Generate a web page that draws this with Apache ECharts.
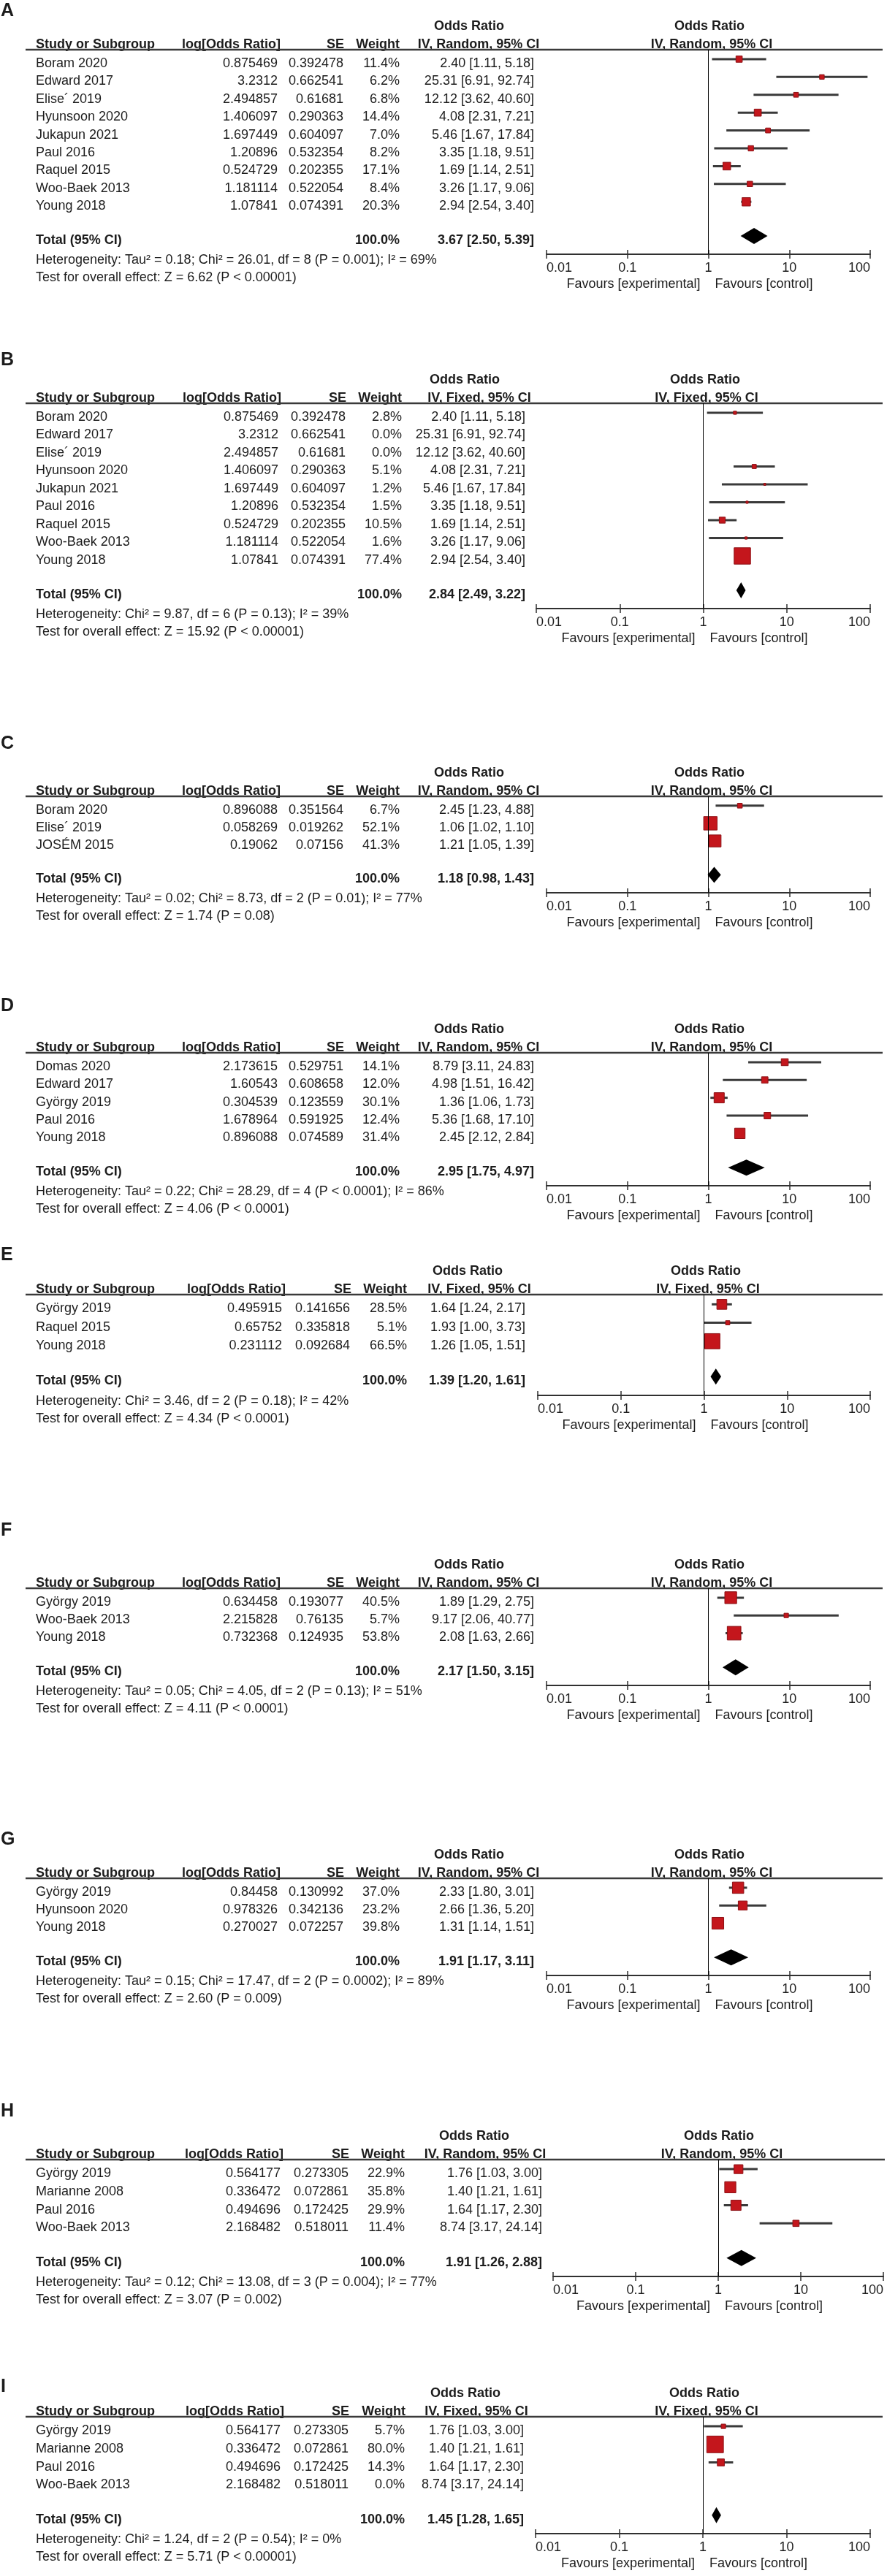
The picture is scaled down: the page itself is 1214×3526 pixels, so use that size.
<!DOCTYPE html>
<html><head><meta charset="utf-8">
<script src="https://cdn.jsdelivr.net/npm/echarts@6/dist/echarts.min.js"></script>
<style>html,body{margin:0;padding:0;background:#fff}#chart{width:1214px;height:3526px}</style>
</head><body><div id="chart"></div>
<script>
// ================= DATA =================
const tickLabels = ['0.01', '0.1', '1', '10', '100'];

// Panel A (IV, Random)
const studiesA = ['Boram 2020', 'Edward 2017', 'Elise´ 2019', 'Hyunsoon 2020', 'Jukapun 2021', 'Paul 2016', 'Raquel 2015', 'Woo-Baek 2013', 'Young 2018'];
const logOrA = [0.875469, 3.2312, 2.494857, 1.406097, 1.697449, 1.20896, 0.524729, 1.181114, 1.07841];
const seA = [0.392478, 0.662541, 0.61681, 0.290363, 0.604097, 0.532354, 0.202355, 0.522054, 0.074391];
const weightA = [11.4, 6.2, 6.8, 14.4, 7.0, 8.2, 17.1, 8.4, 20.3];
const orA = [2.40, 25.31, 12.12, 4.08, 5.46, 3.35, 1.69, 3.26, 2.94];
const loA = [1.11, 6.91, 3.62, 2.31, 1.67, 1.18, 1.14, 1.17, 2.54];
const hiA = [5.18, 92.74, 40.60, 7.21, 17.84, 9.51, 2.51, 9.06, 3.40];
const totalA = [3.67, 2.50, 5.39];
const hetA = 'Heterogeneity: Tau² = 0.18; Chi² = 26.01, df = 8 (P = 0.001); I² = 69%';
const testA = 'Test for overall effect: Z = 6.62 (P < 0.00001)';

// Panel B (IV, Fixed)
const studiesB = ['Boram 2020', 'Edward 2017', 'Elise´ 2019', 'Hyunsoon 2020', 'Jukapun 2021', 'Paul 2016', 'Raquel 2015', 'Woo-Baek 2013', 'Young 2018'];
const logOrB = [0.875469, 3.2312, 2.494857, 1.406097, 1.697449, 1.20896, 0.524729, 1.181114, 1.07841];
const seB = [0.392478, 0.662541, 0.61681, 0.290363, 0.604097, 0.532354, 0.202355, 0.522054, 0.074391];
const weightB = [2.8, 0.0, 0.0, 5.1, 1.2, 1.5, 10.5, 1.6, 77.4];
const orB = [2.40, 25.31, 12.12, 4.08, 5.46, 3.35, 1.69, 3.26, 2.94];
const loB = [1.11, 6.91, 3.62, 2.31, 1.67, 1.18, 1.14, 1.17, 2.54];
const hiB = [5.18, 92.74, 40.60, 7.21, 17.84, 9.51, 2.51, 9.06, 3.40];
const totalB = [2.84, 2.49, 3.22];
const hetB = 'Heterogeneity: Chi² = 9.87, df = 6 (P = 0.13); I² = 39%';
const testB = 'Test for overall effect: Z = 15.92 (P < 0.00001)';

// Panel C (IV, Random)
const studiesC = ['Boram 2020', 'Elise´ 2019', 'JOSÉM 2015'];
const logOrC = [0.896088, 0.058269, 0.19062];
const seC = [0.351564, 0.019262, 0.07156];
const weightC = [6.7, 52.1, 41.3];
const orC = [2.45, 1.06, 1.21];
const loC = [1.23, 1.02, 1.05];
const hiC = [4.88, 1.10, 1.39];
const totalC = [1.18, 0.98, 1.43];
const hetC = 'Heterogeneity: Tau² = 0.02; Chi² = 8.73, df = 2 (P = 0.01); I² = 77%';
const testC = 'Test for overall effect: Z = 1.74 (P = 0.08)';

// Panel D (IV, Random)
const studiesD = ['Domas 2020', 'Edward 2017', 'György 2019', 'Paul 2016', 'Young 2018'];
const logOrD = [2.173615, 1.60543, 0.304539, 1.678964, 0.896088];
const seD = [0.529751, 0.608658, 0.123559, 0.591925, 0.074589];
const weightD = [14.1, 12.0, 30.1, 12.4, 31.4];
const orD = [8.79, 4.98, 1.36, 5.36, 2.45];
const loD = [3.11, 1.51, 1.06, 1.68, 2.12];
const hiD = [24.83, 16.42, 1.73, 17.10, 2.84];
const totalD = [2.95, 1.75, 4.97];
const hetD = 'Heterogeneity: Tau² = 0.22; Chi² = 28.29, df = 4 (P < 0.0001); I² = 86%';
const testD = 'Test for overall effect: Z = 4.06 (P < 0.0001)';

// Panel E (IV, Fixed)
const studiesE = ['György 2019', 'Raquel 2015', 'Young 2018'];
const logOrE = [0.495915, 0.65752, 0.231112];
const seE = [0.141656, 0.335818, 0.092684];
const weightE = [28.5, 5.1, 66.5];
const orE = [1.64, 1.93, 1.26];
const loE = [1.24, 1.00, 1.05];
const hiE = [2.17, 3.73, 1.51];
const totalE = [1.39, 1.20, 1.61];
const hetE = 'Heterogeneity: Chi² = 3.46, df = 2 (P = 0.18); I² = 42%';
const testE = 'Test for overall effect: Z = 4.34 (P < 0.0001)';

// Panel F (IV, Random)
const studiesF = ['György 2019', 'Woo-Baek 2013', 'Young 2018'];
const logOrF = [0.634458, 2.215828, 0.732368];
const seF = [0.193077, 0.76135, 0.124935];
const weightF = [40.5, 5.7, 53.8];
const orF = [1.89, 9.17, 2.08];
const loF = [1.29, 2.06, 1.63];
const hiF = [2.75, 40.77, 2.66];
const totalF = [2.17, 1.50, 3.15];
const hetF = 'Heterogeneity: Tau² = 0.05; Chi² = 4.05, df = 2 (P = 0.13); I² = 51%';
const testF = 'Test for overall effect: Z = 4.11 (P < 0.0001)';

// Panel G (IV, Random)
const studiesG = ['György 2019', 'Hyunsoon 2020', 'Young 2018'];
const logOrG = [0.84458, 0.978326, 0.270027];
const seG = [0.130992, 0.342136, 0.072257];
const weightG = [37.0, 23.2, 39.8];
const orG = [2.33, 2.66, 1.31];
const loG = [1.80, 1.36, 1.14];
const hiG = [3.01, 5.20, 1.51];
const totalG = [1.91, 1.17, 3.11];
const hetG = 'Heterogeneity: Tau² = 0.15; Chi² = 17.47, df = 2 (P = 0.0002); I² = 89%';
const testG = 'Test for overall effect: Z = 2.60 (P = 0.009)';

// Panel H (IV, Random)
const studiesH = ['György 2019', 'Marianne 2008', 'Paul 2016', 'Woo-Baek 2013'];
const logOrH = [0.564177, 0.336472, 0.494696, 2.168482];
const seH = [0.273305, 0.072861, 0.172425, 0.518011];
const weightH = [22.9, 35.8, 29.9, 11.4];
const orH = [1.76, 1.40, 1.64, 8.74];
const loH = [1.03, 1.21, 1.17, 3.17];
const hiH = [3.00, 1.61, 2.30, 24.14];
const totalH = [1.91, 1.26, 2.88];
const hetH = 'Heterogeneity: Tau² = 0.12; Chi² = 13.08, df = 3 (P = 0.004); I² = 77%';
const testH = 'Test for overall effect: Z = 3.07 (P = 0.002)';

// Panel I (IV, Fixed)
const studiesI = ['György 2019', 'Marianne 2008', 'Paul 2016', 'Woo-Baek 2013'];
const logOrI = [0.564177, 0.336472, 0.494696, 2.168482];
const seI = [0.273305, 0.072861, 0.172425, 0.518011];
const weightI = [5.7, 80.0, 14.3, 0.0];
const orI = [1.76, 1.40, 1.64, 8.74];
const loI = [1.03, 1.21, 1.17, 3.17];
const hiI = [3.00, 1.61, 2.30, 24.14];
const totalI = [1.45, 1.28, 1.65];
const hetI = 'Heterogeneity: Chi² = 1.24, df = 2 (P = 0.54); I² = 0%';
const testI = 'Test for overall effect: Z = 5.71 (P < 0.00001)';

// ================= LAYOUT (pixels) =================
const colsR = {study:49, logR:380, seR:470, wR:547, ciR:731, hLogR:384, hSeR:471, hWR:547, hCiC:655, orC:642, rOrC:971, rCiC:974, lineL:35, lineR:1208, axL:748, axR:1191};
const colsB = {study:49, logR:381, seR:473, wR:550, ciR:719, hLogR:385, hSeR:474, hWR:550, hCiC:656, orC:636, rOrC:965, rCiC:967, lineL:35, lineR:1208, axL:734, axR:1191};
const colsE = {study:49, logR:386, seR:479, wR:557, ciR:719, hLogR:391, hSeR:481, hWR:557, hCiC:656, orC:640, rOrC:966, rCiC:969, lineL:35, lineR:1208, axL:736, axR:1191};
const colsH = {study:49, logR:384, seR:477, wR:554, ciR:742, hLogR:388, hSeR:478, hWR:554, hCiC:664, orC:649, rOrC:984, rCiC:988, lineL:35, lineR:1211, axL:757, axR:1209};
const colsI = {study:49, logR:384, seR:477, wR:554, ciR:717, hLogR:389, hSeR:478, hWR:555, hCiC:652, orC:637, rOrC:964, rCiC:967, lineL:35, lineR:1208, axL:733, axR:1191};

const panels = [
  {label:'A', model:'Random', studies:studiesA, logOr:logOrA, se:seA, weight:weightA, or:orA, lo:loA, hi:hiA, total:totalA, het:hetA, test:testA, letterY:15,   line:68,   axis:348,  cols:colsR},
  {label:'B', model:'Fixed',  studies:studiesB, logOr:logOrB, se:seB, weight:weightB, or:orB, lo:loB, hi:hiB, total:totalB, het:hetB, test:testB, letterY:493,  line:552,  axis:833,  cols:colsB},
  {label:'C', model:'Random', studies:studiesC, logOr:logOrC, se:seC, weight:weightC, or:orC, lo:loC, hi:hiC, total:totalC, het:hetC, test:testC, letterY:1018, line:1090, axis:1222, cols:colsR},
  {label:'D', model:'Random', studies:studiesD, logOr:logOrD, se:seD, weight:weightD, or:orD, lo:loD, hi:hiD, total:totalD, het:hetD, test:testD, letterY:1377, line:1441, axis:1623, cols:colsR},
  {label:'E', model:'Fixed',  studies:studiesE, logOr:logOrE, se:seE, weight:weightE, or:orE, lo:loE, hi:hiE, total:totalE, het:hetE, test:testE, letterY:1718, line:1772, axis:1910, cols:colsE},
  {label:'F', model:'Random', studies:studiesF, logOr:logOrF, se:seF, weight:weightF, or:orF, lo:loF, hi:hiF, total:totalF, het:hetF, test:testF, letterY:2095, line:2174, axis:2307, cols:colsR},
  {label:'G', model:'Random', studies:studiesG, logOr:logOrG, se:seG, weight:weightG, or:orG, lo:loG, hi:hiG, total:totalG, het:hetG, test:testG, letterY:2518, line:2571, axis:2704, cols:colsR},
  {label:'H', model:'Random', studies:studiesH, logOr:logOrH, se:seH, weight:weightH, or:orH, lo:loH, hi:hiH, total:totalH, het:hetH, test:testH, letterY:2890, line:2956, axis:3116, cols:colsH},
  {label:'I', model:'Fixed',  studies:studiesI, logOr:logOrI, se:seI, weight:weightI, or:orI, lo:loI, hi:hiI, total:totalI, het:hetI, test:testI, letterY:3267, line:3308, axis:3468, cols:colsI}
];

// ================= BUILD =================
const FONT = '"Liberation Sans", Arial, Helvetica, sans-serif';
const TXT = '#1c1c1c';
const grids = [], xAxes = [], yAxes = [], series = [], graphics = [];

function txt(x, y, s, align, bold, size) {
  graphics.push({
    type: 'text', x: x, y: y, silent: true,
    style: {
      text: s, fill: TXT,
      font: (bold ? 'bold ' : '') + (size || 18) + 'px ' + FONT,
      align: align, verticalAlign: 'middle',
      textAlign: align, textVerticalAlign: 'middle'
    }
  });
}
function hline(x1, x2, y, w, color) {
  graphics.push({type:'line', silent:true, shape:{x1:x1, y1:y, x2:x2, y2:y}, style:{stroke:color, lineWidth:w}});
}
const fmtCI = (o, l, h) => o.toFixed(2) + ' [' + l.toFixed(2) + ', ' + h.toFixed(2) + ']';

function renderStudy(params, api) {
  const w = api.value(3);
  if (!(w > 0)) return null;
  const row = api.value(4);
  const pO = api.coord([api.value(0), row]);
  const pL = api.coord([api.value(1), row]);
  const pH = api.coord([api.value(2), row]);
  const s = 2.55 * Math.sqrt(w);
  return {
    type: 'group',
    children: [
      {type:'line', shape:{x1:pL[0], y1:pL[1], x2:pH[0], y2:pH[1]}, style:{stroke:'#3a3a3a', lineWidth:3}},
      {type:'rect', shape:{x:pO[0]-s/2, y:pO[1]-s/2, width:s, height:s}, style:{fill:'#C4161C', stroke:'#8C1014', lineWidth:1}}
    ]
  };
}
function renderTotal(params, api) {
  const row = api.value(3);
  const c = api.coord([api.value(0), row]);
  const l = api.coord([api.value(1), row]);
  const h = api.coord([api.value(2), row]);
  const hh = 11;
  return {type:'polygon', shape:{points:[[l[0], c[1]], [c[0], c[1]-hh], [h[0], c[1]], [c[0], c[1]+hh]]}, style:{fill:'#000'}};
}

panels.forEach((p, k) => {
  const c = p.cols, n = p.studies.length;
  const yMin = -0.53, totalRow = n + 0.92, yMax = totalRow + 1.02;
  const pxRow = v => p.line + (v - yMin) / (yMax - yMin) * (p.axis - p.line);

  grids.push({left: c.axL, width: c.axR - c.axL, top: p.line, height: p.axis - p.line});
  const baseX = {
    gridIndex: k, type: 'log', logBase: 10, min: 0.01, max: 100, position: 'bottom',
    splitLine: {show: false}, minorTick: {show: false}, minorSplitLine: {show: false}
  };
  xAxes.push(Object.assign({}, baseX, {
    axisLine: {show: true, onZero: false, lineStyle: {color: '#303030', width: 2}},
    axisTick: {show: true, inside: true, length: 6, lineStyle: {color: '#303030', width: 1.5}},
    axisLabel: {show: true, margin: 10, color: TXT, fontSize: 18, fontFamily: FONT,
      alignMinLabel: 'left', alignMaxLabel: 'right',
      formatter: v => tickLabels[Math.round(Math.log10(v)) + 2]}
  }));
  xAxes.push(Object.assign({}, baseX, {
    axisLine: {show: false, onZero: false},
    axisTick: {show: true, inside: false, length: 6, lineStyle: {color: '#303030', width: 1.5}},
    axisLabel: {show: false}
  }));
  yAxes.push({gridIndex: k, type: 'value', inverse: true, min: yMin, max: yMax, show: false});

  series.push({
    type: 'custom', name: 'studies' + p.label, xAxisIndex: 2 * k, yAxisIndex: k, clip: false, silent: true,
    encode: {x: [0, 1, 2], y: 4},
    data: p.studies.map((s, i) => [p.or[i], p.lo[i], p.hi[i], p.weight[i], i]),
    renderItem: renderStudy, z: 3,
    markLine: {silent: true, symbol: ['none', 'none'], label: {show: false},
      lineStyle: {color: '#000', width: 1, type: 'solid'}, data: [{xAxis: 1}], animation: false}
  });
  series.push({
    type: 'custom', name: 'total' + p.label, xAxisIndex: 2 * k, yAxisIndex: k, clip: false, silent: true,
    encode: {x: [0, 1, 2], y: 3},
    data: [[p.total[0], p.total[1], p.total[2], totalRow]],
    renderItem: renderTotal, z: 4
  });

  // text
  txt(1, p.letterY, p.label, 'left', true, 25);
  const orY = p.line - 32, hY = p.line - 6.5;
  txt(c.orC, orY, 'Odds Ratio', 'center', true);
  txt(c.rOrC, orY, 'Odds Ratio', 'center', true);
  txt(c.study, hY, 'Study or Subgroup', 'left', true);
  txt(c.hLogR, hY, 'log[Odds Ratio]', 'right', true);
  txt(c.hSeR, hY, 'SE', 'right', true);
  txt(c.hWR, hY, 'Weight', 'right', true);
  const ivTxt = 'IV, ' + p.model + ', 95% CI';
  txt(c.hCiC, hY, ivTxt, 'center', true);
  txt(c.rCiC, hY, ivTxt, 'center', true);
  hline(c.lineL, c.lineR, p.line, 2.5, '#3a3a3a');

  p.studies.forEach((s, i) => {
    const y = pxRow(i) + 6;
    txt(c.study, y, s, 'left', false);
    txt(c.logR, y, String(p.logOr[i]), 'right', false);
    txt(c.seR, y, String(p.se[i]), 'right', false);
    txt(c.wR, y, p.weight[i].toFixed(1) + '%', 'right', false);
    txt(c.ciR, y, fmtCI(p.or[i], p.lo[i], p.hi[i]), 'right', false);
  });
  const ty = pxRow(totalRow) + 6;
  txt(c.study, ty, 'Total (95% CI)', 'left', true);
  txt(c.wR, ty, '100.0%', 'right', true);
  txt(c.ciR, ty, fmtCI(p.total[0], p.total[1], p.total[2]), 'right', true);
  txt(c.study, p.axis + 8, p.het, 'left', false);
  txt(c.study, p.axis + 32, p.test, 'left', false);

  const cx = (c.axL + c.axR) / 2;
  txt(cx - 11, p.axis + 41, 'Favours [experimental]', 'right', false);
  txt(cx + 9, p.axis + 41, 'Favours [control]', 'left', false);
});

const chart = echarts.init(document.getElementById('chart'), null, {renderer: 'canvas', width: 1214, height: 3526});
chart.setOption({
  animation: false,
  backgroundColor: '#fff',
  grid: grids, xAxis: xAxes, yAxis: yAxes, series: series,
  graphic: {elements: graphics}
});
</script>
</body></html>
